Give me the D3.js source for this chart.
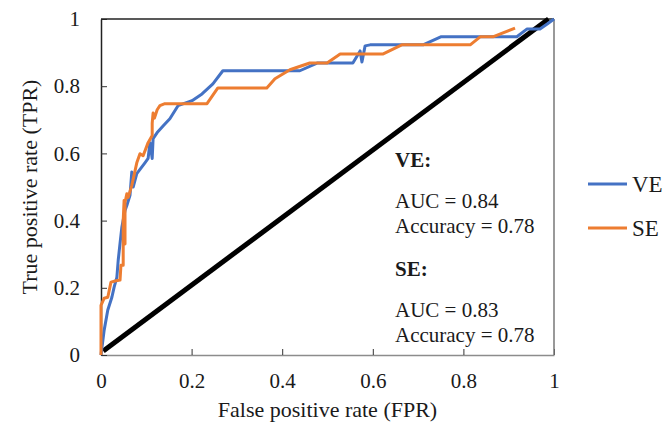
<!DOCTYPE html>
<html>
<head>
<meta charset="utf-8">
<script src="https://cdn.jsdelivr.net/npm/d3@7"></script>
<style>
body{margin:0;background:#fff;}
text{font-family:"Liberation Serif","Times New Roman",serif;fill:#1a1a1a;}
</style>
</head>
<body>
<div id="chart"></div>
<script>
var w=664, h=428;
var pad={top:19, bottom:73, left:101, right:110};

// ROC points [FPR, TPR]
var veFpr=[0,0.007,0.015,0.024,0.029,0.035,0.038,0.042,0.046,0.053,0.057,0.064,0.068,0.071,0.079,0.097,0.104,0.108,0.113,0.115,0.124,0.138,0.152,0.17,0.201,0.223,0.247,0.269,0.439,0.477,0.556,0.572,0.576,0.583,0.594,0.711,0.75,0.918,0.94,0.969,0.985,1];
var veTpr=[0,0.074,0.134,0.172,0.202,0.231,0.282,0.332,0.38,0.43,0.445,0.475,0.545,0.5,0.54,0.572,0.585,0.632,0.585,0.644,0.662,0.683,0.703,0.742,0.757,0.777,0.807,0.846,0.846,0.869,0.869,0.905,0.872,0.92,0.923,0.923,0.947,0.947,0.97,0.97,0.985,1];
var seFpr=[0,0,0.007,0.015,0.022,0.031,0.042,0.044,0.049,0.049,0.051,0.053,0.053,0.057,0.06,0.068,0.079,0.086,0.093,0.104,0.113,0.113,0.115,0.118,0.124,0.13,0.141,0.234,0.258,0.366,0.384,0.417,0.461,0.499,0.528,0.623,0.664,0.815,0.837,0.865,0.914];
var seTpr=[0,0.148,0.169,0.172,0.217,0.22,0.223,0.267,0.267,0.40,0.46,0.33,0.454,0.48,0.469,0.505,0.572,0.599,0.593,0.632,0.653,0.69,0.72,0.705,0.73,0.742,0.748,0.748,0.795,0.795,0.822,0.849,0.869,0.869,0.896,0.896,0.923,0.923,0.947,0.947,0.973];
var diagFpr=[0.005,0.988];
var diagTpr=[0.012,1];

var seriesNames=["VE","SE"];
var seriesColors=["#4472C4","#ED7D31"];
var tickValues=[0,0.2,0.4,0.6,0.8,1];
var notes=[["VE:","AUC = 0.84","Accuracy = 0.78"],["SE:","AUC = 0.83","Accuracy = 0.78"]];

function zip(a,b){return a.map(function(v,i){return [v,b[i]];});}

var svg=d3.select("#chart").append("svg").attr("width",w).attr("height",h);

var xScale=d3.scaleLinear().domain([0,1]).range([pad.left,w-pad.right]);
var yScale=d3.scaleLinear().domain([0,1]).range([h-pad.bottom,pad.top]);
var fmt=function(d){return String(+d.toFixed(1));};

//Axes with inward ticks
var xAxis=d3.axisBottom(xScale).tickValues(tickValues).tickFormat(fmt).tickSizeInner(-6).tickSizeOuter(0).tickPadding(18);
var yAxis=d3.axisLeft(yScale).tickValues(tickValues).tickFormat(fmt).tickSizeInner(-6).tickSizeOuter(0).tickPadding(21);

var gx=svg.append("g").attr("transform","translate(0,"+(h-pad.bottom)+")").call(xAxis);
var gy=svg.append("g").attr("transform","translate("+pad.left+",0)").call(yAxis);
gx.select(".domain").attr("stroke","#8c8c8c").attr("stroke-width",1.5);
gy.select(".domain").attr("stroke","#222").attr("stroke-width",1.5);
gx.selectAll(".tick line").attr("stroke","#333");
gy.selectAll(".tick line").attr("stroke","#333");
svg.selectAll(".tick text").attr("font-size","21px").attr("font-family","Liberation Serif").attr("fill","#1a1a1a");

//Frame top and right
svg.append("line").attr("x1",xScale(0)).attr("x2",xScale(1)).attr("y1",yScale(1)).attr("y2",yScale(1))
   .attr("stroke","#222").attr("stroke-width",1.5);
svg.append("line").attr("x1",xScale(1)).attr("x2",xScale(1)).attr("y1",yScale(1)).attr("y2",yScale(0))
   .attr("stroke","#777").attr("stroke-width",1.5);

//Axis titles
svg.append("text")
   .attr("x",(xScale(0)+xScale(1))/2)
   .attr("y",417)
   .attr("text-anchor","middle")
   .attr("font-size","22px")
   .text("False positive rate (FPR)");
svg.append("text")
   .attr("transform","translate(37,"+((yScale(0)+yScale(1))/2)+")rotate(-90)")
   .attr("text-anchor","middle")
   .attr("font-size","22px")
   .text("True positive rate (TPR)");

var line=d3.line().x(function(d){return xScale(d[0]);}).y(function(d){return yScale(d[1]);});

//Diagonal reference
svg.append("path").datum(zip(diagFpr,diagTpr)).attr("d",line)
   .attr("fill","none").attr("stroke","#000").attr("stroke-width",5);

//ROC curves
var data=[zip(veFpr,veTpr),zip(seFpr,seTpr)];
svg.selectAll(".roc").data(data).enter().append("path")
   .attr("class","roc")
   .attr("d",line)
   .attr("fill","none")
   .attr("stroke",function(d,i){return seriesColors[i];})
   .attr("stroke-width",3)
   .attr("stroke-linejoin","round");

//Annotations
var noteY=[[167,208,233],[276,317,342]];
notes.forEach(function(block,i){
  block.forEach(function(t,j){
    svg.append("text")
       .attr("x",395)
       .attr("y",noteY[i][j])
       .attr("font-size","21px")
       .attr("font-weight",j===0?"bold":"normal")
       .text(t);
  });
});

//Legend
var legend=svg.selectAll(".legend").data(seriesNames).enter().append("g")
   .attr("class","legend")
   .attr("transform",function(d,i){return "translate(588,"+(184+i*44)+")";});
legend.append("line").attr("x1",0).attr("x2",39).attr("y1",0).attr("y2",0)
   .attr("stroke",function(d,i){return seriesColors[i];}).attr("stroke-width",3);
legend.append("text").attr("x",44).attr("y",0).attr("dy","0.35em")
   .attr("font-size","23px").text(function(d){return d;});
</script>
</body>
</html>
